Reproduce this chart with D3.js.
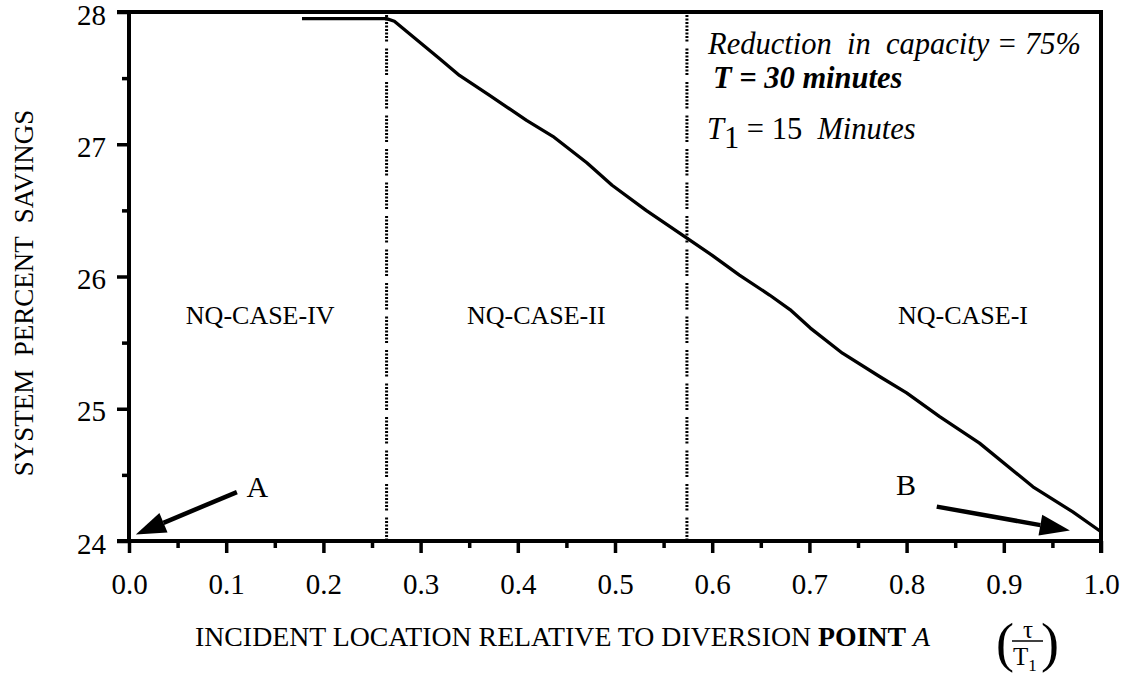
<!DOCTYPE html>
<html>
<head>
<meta charset="utf-8">
<script src="https://cdn.jsdelivr.net/npm/d3@7/dist/d3.min.js"></script>
<style>
  html, body { margin: 0; padding: 0; background: #fff; }
  svg { display: block; }
  text { font-family: "Liberation Serif", "Times New Roman", Times, serif; fill: #000; white-space: pre; }
</style>
</head>
<body>
<svg id="chart" width="1129" height="676"></svg>
<script>
// ---- data ----
const curveX = [0.178, 0.265, 0.273, 0.319, 0.340, 0.371, 0.409, 0.436, 0.471, 0.497, 0.532, 0.574, 0.600, 0.628, 0.659, 0.680, 0.701, 0.734, 0.773, 0.800, 0.834, 0.875, 0.930, 0.971, 1.000];
const curveY = [27.95, 27.95, 27.93, 27.65, 27.52, 27.37, 27.18, 27.06, 26.86, 26.69, 26.50, 26.29, 26.16, 26.01, 25.86, 25.75, 25.61, 25.42, 25.24, 25.12, 24.94, 24.74, 24.41, 24.22, 24.07];
const boundaries = [0.265, 0.574];
const caseLabels = ["NQ-CASE-IV", "NQ-CASE-II", "NQ-CASE-I"];
const caseLabelX = [0.135, 0.419, 0.858];
const caseLabelY = 25.64;
const xMajorTicks = [0.0, 0.1, 0.2, 0.3, 0.4, 0.5, 0.6, 0.7, 0.8, 0.9, 1.0];
const xMinorTicks = [0.05, 0.15, 0.25, 0.35, 0.45, 0.55, 0.65, 0.75, 0.85, 0.95];
const yMajorTicks = [24, 25, 26, 27, 28];
const yMinorTicks = [24.5, 25.5, 26.5, 27.5];
const arrowA = { tail: [0.111, 24.37], tip: [0.007, 24.05], label: "A", labelAt: [0.121, 24.33] };
const arrowB = { tail: [0.831, 24.26], tip: [0.968, 24.08], label: "B", labelAt: [0.789, 24.35] };

// ---- layout ----
const svg = d3.select("#chart");
const L = 129, R = 1101, T = 12, B = 541;
const x = d3.scaleLinear().domain([0, 1]).range([L, R]);
const y = d3.scaleLinear().domain([24, 28]).range([B, T]);

// dotted boundaries
svg.selectAll("line.bound").data(boundaries).enter().append("line")
  .attr("x1", d => x(d)).attr("x2", d => x(d))
  .attr("y1", T + 3).attr("y2", B)
  .attr("stroke", "#000").attr("stroke-width", 3)
  .attr("stroke-dasharray", "2,1.5,2,1.5,2,1.5,2,1.5,2,1.5,2,1.5,2,1.5,2,7");

// curve
const pts = curveX.map((d, i) => [d, curveY[i]]);
svg.append("path").datum(pts)
  .attr("d", d3.line().x(d => x(d[0])).y(d => y(d[1])))
  .attr("fill", "none").attr("stroke", "#000").attr("stroke-width", 3.3)
  .attr("stroke-linejoin", "round");

// x axis
const gx = svg.append("g").attr("transform", `translate(0,${B})`)
  .call(d3.axisBottom(x).tickValues(xMajorTicks).tickFormat(d3.format(".1f")).tickSize(12).tickSizeOuter(0));
gx.select(".domain").attr("stroke", "#000").attr("stroke-width", 4)
  .attr("d", `M${L - 12},0H${R + 2}`);
gx.selectAll(".tick line").attr("stroke-width", 3.5);
gx.selectAll(".tick text").attr("font-size", 29).attr("y", 53).attr("dy", 0);
const gxm = svg.append("g").attr("transform", `translate(0,${B})`)
  .call(d3.axisBottom(x).tickValues(xMinorTicks).tickFormat("").tickSize(7).tickSizeOuter(0));
gxm.select(".domain").remove();
gxm.selectAll(".tick line").attr("stroke-width", 3.5);

// y axis
const gy = svg.append("g").attr("transform", `translate(${L},0)`)
  .call(d3.axisLeft(y).tickValues(yMajorTicks).tickFormat(d3.format("d")).tickSize(12).tickSizeOuter(0));
gy.select(".domain").attr("stroke", "#000").attr("stroke-width", 4)
  .attr("d", `M0,${T - 2}V${B + 2}`);
gy.selectAll(".tick line").attr("stroke-width", 3.5);
gy.selectAll(".tick text").attr("font-size", 29).attr("x", -23).attr("dy", 12);
const gym = svg.append("g").attr("transform", `translate(${L},0)`)
  .call(d3.axisLeft(y).tickValues(yMinorTicks).tickFormat("").tickSize(7).tickSizeOuter(0));
gym.select(".domain").remove();
gym.selectAll(".tick line").attr("stroke-width", 3.5);
svg.selectAll("g").attr("font-family", null);

// top and right frame
svg.append("line").attr("x1", L - 12).attr("x2", R + 2).attr("y1", T).attr("y2", T)
  .attr("stroke", "#000").attr("stroke-width", 4);
svg.append("line").attr("x1", R).attr("x2", R).attr("y1", T - 2).attr("y2", B + 12)
  .attr("stroke", "#000").attr("stroke-width", 4);

// case labels
svg.selectAll("text.case").data(caseLabels).enter().append("text")
  .attr("x", (d, i) => x(caseLabelX[i])).attr("y", y(caseLabelY))
  .attr("text-anchor", "middle").attr("font-size", 26).text(d => d);

// arrows
function drawArrow(a) {
  const x0 = x(a.tail[0]), y0 = y(a.tail[1]), x1 = x(a.tip[0]), y1 = y(a.tip[1]);
  const ang = Math.atan2(y1 - y0, x1 - x0);
  const hl = 30, hw = 10.5;
  const bx = x1 - hl * Math.cos(ang), by = y1 - hl * Math.sin(ang);
  svg.append("line").attr("x1", x0).attr("y1", y0).attr("x2", bx).attr("y2", by)
    .attr("stroke", "#000").attr("stroke-width", 4.5);
  const px = -Math.sin(ang), py = Math.cos(ang);
  svg.append("path")
    .attr("d", `M${x1},${y1}L${bx + hw * px},${by + hw * py}L${bx - hw * px},${by - hw * py}Z`)
    .attr("fill", "#000");
  svg.append("text").attr("x", x(a.labelAt[0])).attr("y", y(a.labelAt[1]))
    .attr("font-size", 30).text(a.label);
}
drawArrow(arrowA);
drawArrow(arrowB);

// annotation block
const ann = svg.append("g");
ann.append("text").attr("x", 708).attr("y", 54).attr("font-size", 30.5)
  .attr("font-style", "italic").text("Reduction  in  capacity = 75%");
ann.append("text").attr("x", 713).attr("y", 88).attr("font-size", 30.5)
  .attr("font-style", "italic").attr("font-weight", "bold").text("T = 30 minutes");
const t3 = ann.append("text").attr("x", 707).attr("y", 139).attr("font-size", 30.5);
t3.append("tspan").attr("font-style", "italic").text("T");
t3.append("tspan").attr("dy", 9).text("1");
t3.append("tspan").attr("dy", -9).text(" = 15  ");
t3.append("tspan").attr("font-style", "italic").text("Minutes");

// axis titles
const xt = svg.append("text").attr("x", 195).attr("y", 646).attr("font-size", 27.8);
xt.append("tspan").text("INCIDENT LOCATION RELATIVE TO DIVERSION ");
xt.append("tspan").attr("font-weight", "bold").text("POINT");
xt.append("tspan").text(" ");
xt.append("tspan").attr("font-style", "italic").text("A");

svg.append("text").attr("transform", "translate(33,293) rotate(-90)")
  .attr("text-anchor", "middle").attr("font-size", 27).text("SYSTEM  PERCENT  SAVINGS");

// fraction (tau / T1)
const fr = svg.append("g");
fr.append("text").attr("x", 1028).attr("y", 638).attr("text-anchor", "middle")
  .attr("font-size", 25).text("τ");
fr.append("line").attr("x1", 1012).attr("x2", 1043).attr("y1", 641).attr("y2", 641)
  .attr("stroke", "#000").attr("stroke-width", 1.5);
const tt = fr.append("text").attr("x", 1013).attr("y", 665).attr("font-size", 25);
tt.append("tspan").text("T");
tt.append("tspan").attr("dy", 6).attr("font-size", 17).text("1");
fr.append("text").attr("x", 996).attr("y", 661).attr("font-size", 54).text("(");
fr.append("text").attr("x", 1041).attr("y", 661).attr("font-size", 54).text(")");
</script>
</body>
</html>
